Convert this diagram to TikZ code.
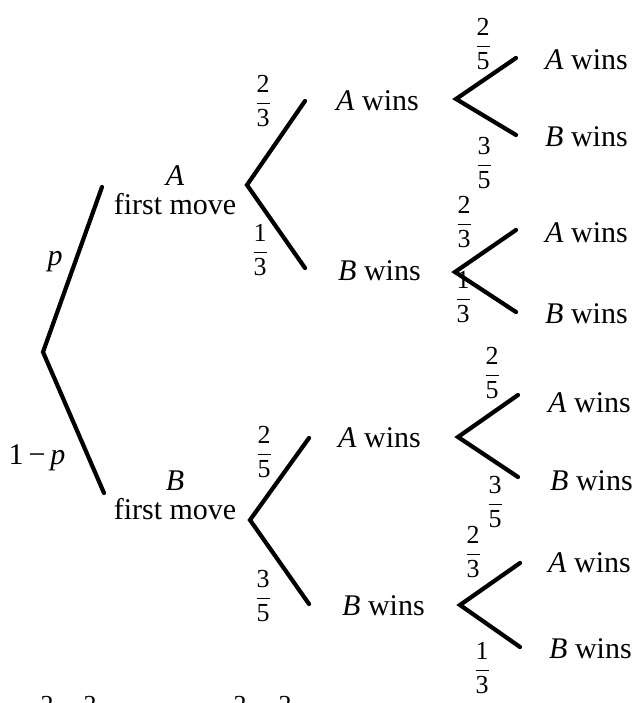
\documentclass[tikz,border=0pt]{standalone}
\usepackage{fontspec}
\setmainfont{Liberation Serif}
\newcommand{\fr}[2]{$\displaystyle\frac{\mbox{#1}}{\mbox{#2}}$}
\begin{document}
\begin{tikzpicture}[x=1pt,y=-1pt,
  br/.style={line width=4.2pt,line cap=round,line join=miter},
  lab/.style={font=\fontsize{30}{34}\selectfont,inner sep=0pt,anchor=base west},
  mv/.style={font=\fontsize{30}{29}\selectfont,inner sep=0pt,align=center},
  frac/.style={font=\fontsize{26}{28}\selectfont,inner sep=0pt}]
\useasboundingbox (0,0) rectangle (638,703);
% level 1
\coordinate (R) at (43,352);
\coordinate (RA) at (102,187);
\coordinate (RB) at (104,493);
\draw[br] (RA) -- (R) -- (RB);
\node[lab,anchor=center] (p) at (55,262) {\textit{p}};
\node[lab,anchor=center] (q) at (37,458) {1\,−\,\textit{p}};
\node[mv] (fA) at (175,190) {\textit{A}\\first move};
\node[mv] (fB) at (175,495) {\textit{B}\\first move};
% level 2 top
\coordinate (V2a) at (247,185);
\coordinate (V2aU) at (305,101);
\coordinate (V2aD) at (305,268);
\draw[br] (V2aU) -- (V2a) -- (V2aD);
\node[frac] (f1) at (263,101) {\fr{2}{3}};
\node[frac] (f2) at (260,250) {\fr{1}{3}};
\node[lab] (w1) at (336,111) {\textit{A} wins};
\node[lab] (w2) at (338,280) {\textit{B} wins};
% level 2 bottom
\coordinate (V2b) at (250,520);
\coordinate (V2bU) at (309,438);
\coordinate (V2bD) at (309,604);
\draw[br] (V2bU) -- (V2b) -- (V2bD);
\node[frac] (f3) at (264,452) {\fr{2}{5}};
\node[frac] (f4) at (263,596) {\fr{3}{5}};
\node[lab] (w3) at (338,447) {\textit{A} wins};
\node[lab] (w4) at (342,615) {\textit{B} wins};
% level 3 group a
\coordinate (V3a) at (456,99);
\coordinate (V3aU) at (516,58);
\coordinate (V3aD) at (516,135);
\draw[br] (V3aU) -- (V3a) -- (V3aD);
\node[frac] (g1) at (483,44) {\fr{2}{5}};
\node[frac] (g2) at (484,163) {\fr{3}{5}};
\node[lab] (x1) at (545,70) {\textit{A} wins};
\node[lab] (x2) at (545,147) {\textit{B} wins};
% group b
\coordinate (V3b) at (455,272);
\coordinate (V3bU) at (516,230);
\coordinate (V3bD) at (516,312);
\draw[br] (V3bU) -- (V3b) -- (V3bD);
\node[frac] (g3) at (464,222) {\fr{2}{3}};
\node[frac] (g4) at (463,297) {\fr{1}{3}};
\node[lab] (x3) at (545,242) {\textit{A} wins};
\node[lab] (x4) at (545,323) {\textit{B} wins};
% group c
\coordinate (V3c) at (458,437);
\coordinate (V3cU) at (518,395);
\coordinate (V3cD) at (518,477);
\draw[br] (V3cU) -- (V3c) -- (V3cD);
\node[frac] (g5) at (492,373) {\fr{2}{5}};
\node[frac] (g6) at (495,502) {\fr{3}{5}};
\node[lab] (x5) at (548,412) {\textit{A} wins};
\node[lab] (x6) at (550,490) {\textit{B} wins};
% group d
\coordinate (V3d) at (460,605);
\coordinate (V3dU) at (520,563);
\coordinate (V3dD) at (520,647);
\draw[br] (V3dU) -- (V3d) -- (V3dD);
\node[frac] (g7) at (473,552) {\fr{2}{3}};
\node[frac] (g8) at (482,668) {\fr{1}{3}};
\node[lab] (x7) at (548,572) {\textit{A} wins};
\node[lab] (x8) at (549,658) {\textit{B} wins};
% cut-off text at the bottom edge
\node[frac,anchor=base] (b1) at (47,713) {2};
\node[frac,anchor=base] (b2) at (90,713) {2};
\node[frac,anchor=base] (b3) at (240,713) {2};
\node[frac,anchor=base] (b4) at (285,713) {2};
\end{tikzpicture}
\end{document}
